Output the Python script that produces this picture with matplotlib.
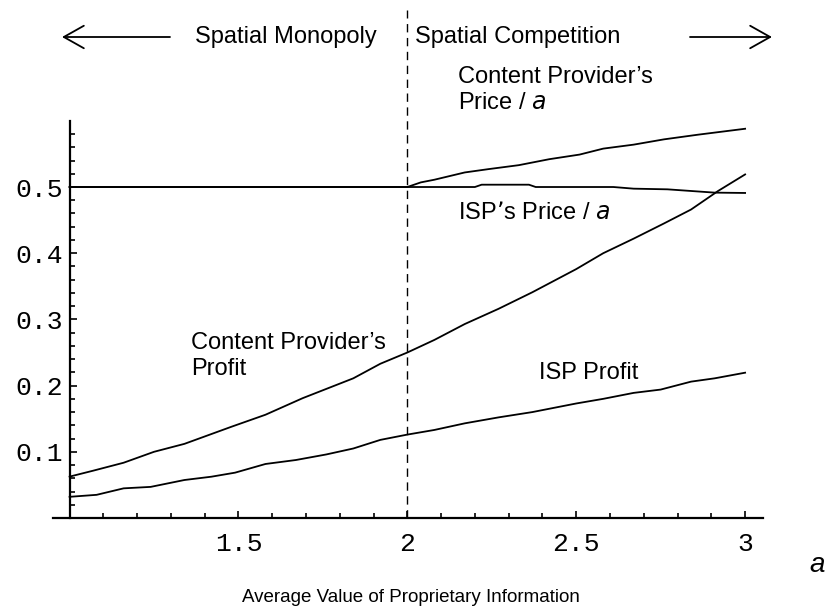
import matplotlib
matplotlib.use("Agg")
import matplotlib.pyplot as plt
from matplotlib.ticker import FixedLocator
from matplotlib import font_manager

# ---- data ----
cpp_a = [1.00, 1.07, 1.16, 1.25, 1.34, 1.41, 1.48, 1.58, 1.69, 1.84, 1.92, 2.00,
         2.08, 2.17, 2.27, 2.37, 2.50, 2.58, 2.67, 2.76, 2.84, 2.92, 3.00]
cpp_v = [0.0625, 0.0715, 0.0835, 0.100, 0.112, 0.125, 0.138, 0.156, 0.181, 0.211, 0.233, 0.250,
         0.269, 0.293, 0.316, 0.341, 0.376, 0.400, 0.422, 0.445, 0.466, 0.494, 0.519]

isp_profit_a = [1.00, 1.08, 1.16, 1.24, 1.34, 1.42, 1.49, 1.58, 1.67, 1.76, 1.84, 1.92, 2.00,
                2.08, 2.17, 2.27, 2.37, 2.50, 2.58, 2.67, 2.75, 2.84, 2.91, 3.00]
isp_profit_v = [0.032, 0.035, 0.0448, 0.047, 0.0574, 0.0624, 0.0685, 0.0816, 0.0876, 0.096, 0.105, 0.118, 0.126,
                0.133, 0.143, 0.152, 0.160, 0.173, 0.180, 0.189, 0.194, 0.206, 0.211, 0.2195]

cp_price_a = [1.00, 2.00, 2.04, 2.08, 2.17, 2.24, 2.33, 2.42, 2.51, 2.58, 2.67, 2.76, 2.86, 3.00]
cp_price_v = [0.500, 0.500, 0.507, 0.511, 0.522, 0.527, 0.533, 0.542, 0.549, 0.558, 0.564, 0.572, 0.579, 0.588]

isp_price_a = [1.00, 2.20, 2.22, 2.36, 2.38, 2.61, 2.67, 2.77, 2.91, 3.00]
isp_price_v = [0.500, 0.500, 0.5035, 0.5035, 0.500, 0.500, 0.4975, 0.4965, 0.4915, 0.491]

x_major = [1.5, 2, 2.5, 3]
x_major_labels = ["1.5", "2", "2.5", "3"]
y_major = [0.1, 0.2, 0.3, 0.4, 0.5]
y_major_labels = ["0.1", "0.2", "0.3", "0.4", "0.5"]
boundary = 2.0

W, H = 830, 616
fig = plt.figure(figsize=(W / 100, H / 100), dpi=100)

def fx(px):
    return px / W

def fy(py):
    return 1 - py / H

# axes: x from 0.95 (px 52.7) to 3.053 (px 763); y from 0 (px 518) to 0.7825 (px 0)
ax = fig.add_axes([fx(52.7), fy(518), fx(763) - fx(52.7), 518 / H])
ax.set_xlim(0.95, 3.053)
ax.set_ylim(0, 0.7825)
ax.patch.set_alpha(0)

lw = 1.3
for xa, yv in [(cpp_a, cpp_v), (isp_profit_a, isp_profit_v),
               (cp_price_a, cp_price_v), (isp_price_a, isp_price_v)]:
    ax.plot(xa, yv, color="black", lw=lw, solid_joinstyle="round")

ax.axvline(boundary, ymin=0, ymax=0.767 / 0.7825, color="black", lw=1.0,
           linestyle=(0, (6, 4)))

for s in ["top", "right"]:
    ax.spines[s].set_visible(False)
ax.spines["left"].set_position(("data", 1.0))
ax.spines["left"].set_bounds(0, 0.6)
ax.spines["bottom"].set_position(("data", 0))
for s in ["left", "bottom"]:
    ax.spines[s].set_linewidth(1.6)

ax.xaxis.set_major_locator(FixedLocator(x_major))
ax.set_xticklabels(x_major_labels)
ax.xaxis.set_minor_locator(FixedLocator([1.0 + 0.1 * i for i in range(21)]))
ax.yaxis.set_major_locator(FixedLocator(y_major))
ax.set_yticklabels(y_major_labels)
ax.yaxis.set_minor_locator(FixedLocator([0.02 * i for i in range(1, 30)]))

mono = "Liberation Mono"
ax.tick_params(axis="both", which="both", direction="in", width=1.2)
ax.tick_params(axis="both", which="major", length=5)
ax.tick_params(axis="both", which="minor", length=3.5)
ax.tick_params(axis="x", which="major", pad=10, labelsize=19)
ax.tick_params(axis="y", which="major", pad=5, labelsize=19)
for lab in ax.get_xticklabels() + ax.get_yticklabels():
    lab.set_fontfamily(mono)

sans = "Liberation Sans"
fs = 17
fig.text(fx(195), fy(37), "Spatial Monopoly", family=sans, fontsize=fs, va="center", ha="left")
fig.text(fx(415), fy(37), "Spatial Competition", family=sans, fontsize=fs, va="center", ha="left")

arrow_props = dict(arrowstyle="->,head_length=0.8,head_width=0.45", lw=1.3,
                   color="black", mutation_scale=18, shrinkA=0, shrinkB=0)
fig.add_artist(matplotlib.patches.FancyArrowPatch((fx(170), fy(37)), (fx(62), fy(37)),
               transform=fig.transFigure, **arrow_props))
fig.add_artist(matplotlib.patches.FancyArrowPatch((fx(690), fy(37)), (fx(772), fy(37)),
               transform=fig.transFigure, **arrow_props))

fig.text(fx(458), fy(77), "Content Provider\u2019s", family=sans, fontsize=fs, va="center", ha="left")
fig.text(fx(458), fy(103), "Price / $\\it{a}$", family=sans, fontsize=fs, va="center", ha="left")
fig.text(fx(458), fy(213), "ISP\u2019s Price / $\\it{a}$", family=sans, fontsize=fs, va="center", ha="left")
fig.text(fx(191), fy(343), "Content Provider\u2019s", family=sans, fontsize=fs, va="center", ha="left")
fig.text(fx(191), fy(369), "Profit", family=sans, fontsize=fs, va="center", ha="left")
fig.text(fx(539), fy(373), "ISP Profit", family=sans, fontsize=fs, va="center", ha="left")
fig.text(fx(817), fy(565), "a", family=sans, fontsize=20, style="italic", va="center", ha="center")

names = {f.name for f in font_manager.fontManager.ttflist}
if "Liberation Sans Narrow" in names:
    xl_family, xl_size = "Liberation Sans Narrow", 16.3
else:
    xl_family, xl_size = sans, 13.5
fig.text(fx(411), fy(598), "Average Value of Proprietary Information", family=xl_family,
         fontsize=xl_size, va="center", ha="center")

fig.savefig("out.png", dpi=100)
